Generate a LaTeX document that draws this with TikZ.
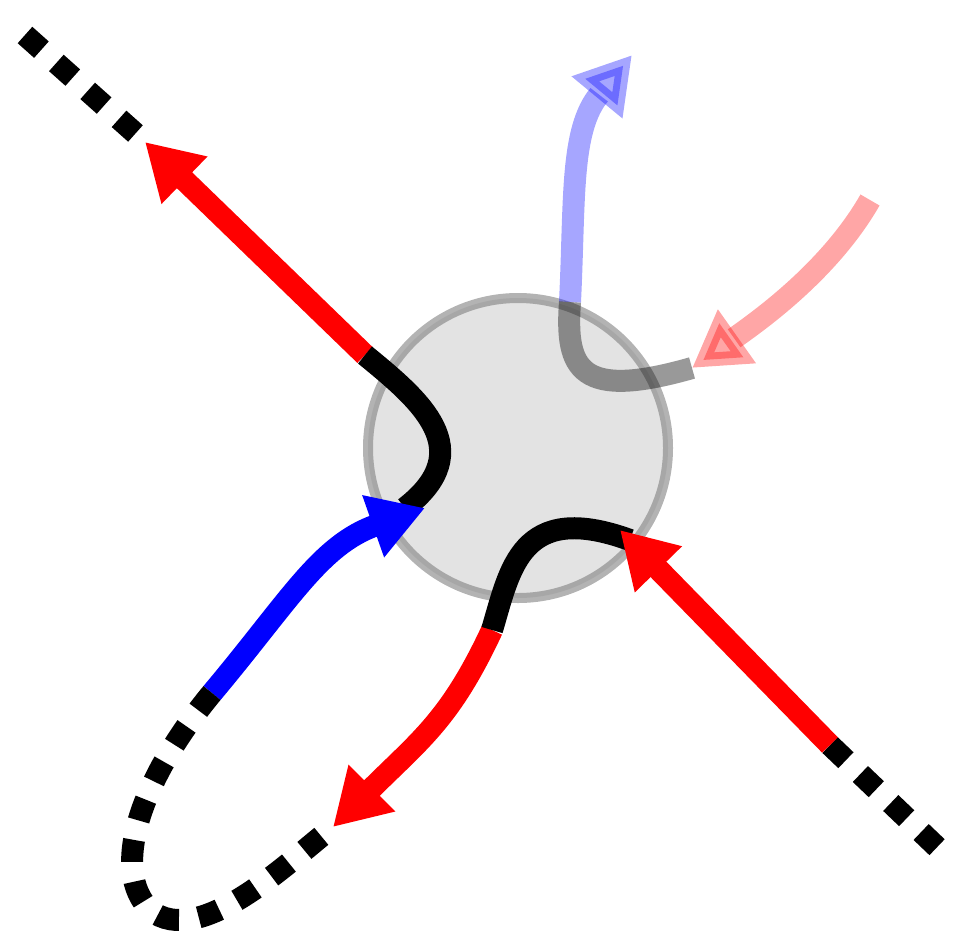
\documentclass[tikz,border=0pt]{standalone}
\usetikzlibrary{arrows.meta}
\begin{document}
\begin{tikzpicture}[x=1pt,y=-1pt,
  thick line/.style={line width=22pt},
  arr/.style={thick line,-{Triangle[length=55pt,width=62pt]}},
  dashline/.style={line width=22pt,dash pattern=on 22pt off 20pt}]
\useasboundingbox (0,0) rectangle (955,940);
% circle
\node[circle,minimum size=300pt,fill=black!11,draw=gray,draw opacity=0.6,line width=10pt] (c) at (518,448) {};
% top-left
\coordinate (a1) at (365,355);
\coordinate (a2) at (145,142);
\coordinate (a3) at (25,35);
\draw[dashline] (a3) -- (a2);
\draw[arr,red] (a1) -- (a2);
\draw[thick line] (a1) .. controls (420,400) and (480,450) .. (405,508);
% blue arrow and loop
\coordinate (b1) at (212,693);
\coordinate (b2) at (425,508);
\draw[arr,blue] (b1) .. controls (290,600) and (320,545) .. (b2);
\coordinate (r1) at (492,630);
\coordinate (r2) at (333,827);
\draw[dashline] (b1) .. controls (140,780) and (110,870) .. (150,910) .. controls (200,950) and (290,860) .. (r2);
\draw[arr,red] (r1) .. controls (450,720) and (420,740) .. (r2);
\draw[thick line] (r1) .. controls (510,570) and (520,500) .. (630,540);
% bottom-right
\coordinate (d1) at (830,745);
\coordinate (d2) at (620,530);
\coordinate (d3) at (940,850);
\draw[dashline] (d1) -- (d3);
\draw[arr,red] (d1) -- (d2);
% light arrows
\coordinate (e1) at (570,302);
\coordinate (e2) at (632,55);
\draw[arr,blue,opacity=0.35] (e1) .. controls (575,200) and (570,130) .. (e2);
\coordinate (f1) at (870,200);
\coordinate (f2) at (692,368);
\draw[arr,red,opacity=0.35] (f1) .. controls (830,270) and (760,320) .. (f2);
\draw[thick line,opacity=0.4] (e1) .. controls (565,370) and (580,400) .. (f2);
\end{tikzpicture}
\end{document}
